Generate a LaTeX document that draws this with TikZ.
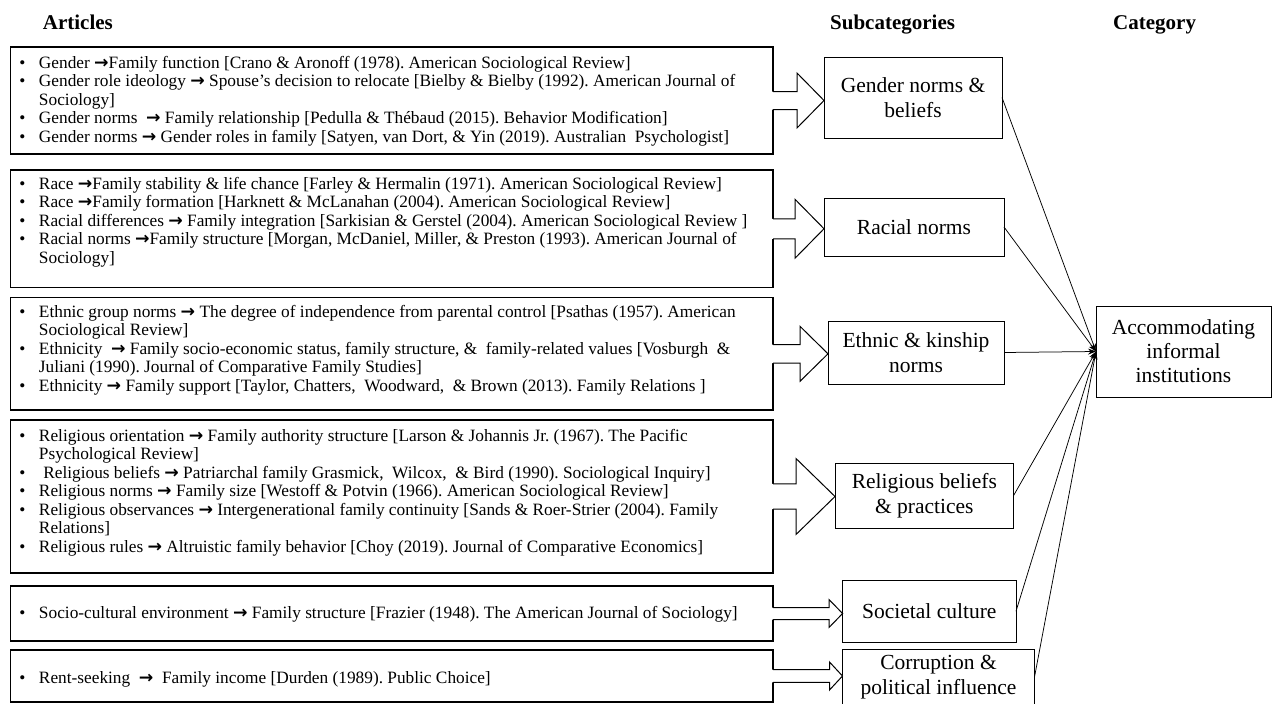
\documentclass[tikz,border=0pt]{standalone}
\usepackage{fontspec}
\setmainfont{Liberation Serif}
\newfontfamily\arrowfont{DejaVu Sans}[Scale=1.0]
\usetikzlibrary{calc,arrows.meta}
\frenchspacing

% list helpers for the article boxes
\newcommand\bul{\makebox[19.5pt][l]{\textbullet}}
\newcommand\cont{\hspace*{19.5pt}}
\newcommand\goesto{{\arrowfont\bfseries →}}

% hollow block arrow: from node #1 (east side) to node #2 (west side)
% #3 = stem half height, #4 = head half height, #5 = head length
\newcommand\fatarrow[5]{%
  \fill[white] let \p1=(#1.east), \p2=(#2.west) in
    (\x1-1.5pt,\y1+#3) -- (\x2-#5,\y1+#3) -- (\x2-#5,\y1+#4) -- (\x2,\y1)
    -- (\x2-#5,\y1-#4) -- (\x2-#5,\y1-#3) -- (\x1-1.5pt,\y1-#3) -- cycle;
  \draw[fat] let \p1=(#1.east), \p2=(#2.west) in
    (\x1,\y1+#3) -- (\x2-#5,\y1+#3) -- (\x2-#5,\y1+#4) -- (\x2,\y1)
    -- (\x2-#5,\y1-#4) -- (\x2-#5,\y1-#3) -- (\x1,\y1-#3);
}

\begin{document}
\begin{tikzpicture}[x=1pt,y=-1pt,
  artbox/.style={draw,line width=1.1pt,minimum width=762.5pt,inner sep=0pt,outer sep=0pt},
  arttext/.style={anchor=base west,inner sep=0pt,outer sep=0pt,
    font=\fontsize{17.3}{18.5}\selectfont},
  subbox/.style={draw,line width=1pt,align=center,inner sep=0pt,outer sep=0pt,
    font=\fontsize{21.5}{25}\selectfont},
  header/.style={anchor=base west,inner sep=0pt,font=\fontsize{21}{24}\selectfont\bfseries},
  link/.style={line width=0.75pt,-{Stealth[length=8pt,width=6pt]}},
  fat/.style={line width=1pt,line join=miter}]
\useasboundingbox (0,0) rectangle (1275,704);

% column headings
\node[header] (hA) at (42.7,30) {Articles};
\node[header] (hS) at (830,30) {Subcategories};
\node[header] (hC) at (1113,30) {Category};

% article boxes
\node[artbox,minimum height=107pt]   (a1) at (391.75,100.5) {};
\node[artbox,minimum height=117.5pt] (a2) at (391.75,228.75) {};
\node[artbox,minimum height=112.4pt] (a3) at (391.75,353.8) {};
\node[artbox,minimum height=153pt]   (a4) at (391.75,496.5) {};
\node[artbox,minimum height=55pt]    (a5) at (391.75,613.5) {};
\node[artbox,minimum height=52pt]    (a6) at (391.75,676) {};

\node[arttext] (t1) at (19.5,68) {\parbox[t]{745pt}{\raggedright
\bul Gender \goesto Family function [Crano \& Aronoff (1978). American Sociological Review]\\
\bul Gender role ideology \goesto{} Spouse’s decision to relocate [Bielby \& Bielby (1992). American Journal of\\
\cont Sociology]\\
\bul Gender norms \ \goesto{} Family relationship [Pedulla \& Thébaud (2015). Behavior Modification]\\
\bul Gender norms \goesto{} Gender roles in family [Satyen, van Dort, \& Yin (2019). Australian \ Psychologist]}};

\node[arttext] (t2) at (19.5,189) {\parbox[t]{745pt}{\raggedright
\bul Race \goesto Family stability \& life chance [Farley \& Hermalin (1971). American Sociological Review]\\
\bul Race \goesto Family formation [Harknett \& McLanahan (2004). American Sociological Review]\\
\bul Racial differences \goesto{} Family integration [Sarkisian \& Gerstel (2004). American Sociological Review ]\\
\bul Racial norms \goesto Family structure [Morgan, McDaniel, Miller, \& Preston (1993). American Journal of\\
\cont Sociology]}};

\node[arttext] (t3) at (19.5,317) {\parbox[t]{745pt}{\raggedright
\bul Ethnic group norms \goesto{} The degree of independence from parental control [Psathas (1957). American\\
\cont Sociological Review]\\
\bul Ethnicity \ \goesto{} Family socio-economic status, family structure, \& \ family-related values [Vosburgh \ \&\\
\cont Juliani (1990). Journal of Comparative Family Studies]\\
\bul Ethnicity \goesto{} Family support [Taylor, Chatters, \ Woodward, \ \& Brown (2013). Family Relations ]}};

\node[arttext] (t4) at (19.5,441) {\parbox[t]{745pt}{\raggedright
\bul Religious orientation \goesto{} Family authority structure [Larson \& Johannis Jr. (1967). The Pacific\\
\cont Psychological Review]\\
\bul\ Religious beliefs \goesto{} Patriarchal family Grasmick, \ Wilcox, \ \& Bird (1990). Sociological Inquiry]\\
\bul Religious norms \goesto{} Family size [Westoff \& Potvin (1966). American Sociological Review]\\
\bul Religious observances \goesto{} Intergenerational family continuity [Sands \& Roer-Strier (2004). Family\\
\cont Relations]\\
\bul Religious rules \goesto{} Altruistic family behavior [Choy (2019). Journal of Comparative Economics]}};

\node[arttext] (t5) at (19.5,618) {\parbox[t]{745pt}{\raggedright
\bul Socio-cultural environment \goesto{} Family structure [Frazier (1948). The American Journal of Sociology]}};

\node[arttext] (t6) at (19.5,683) {\parbox[t]{745pt}{\raggedright
\bul Rent-seeking \ \goesto{} \ Family income [Durden (1989). Public Choice]}};

% subcategory boxes
\node[subbox,minimum width=178pt,minimum height=81pt]   (sg) at (913,97.5)   {Gender norms \&\\beliefs};
\node[subbox,minimum width=180pt,minimum height=58pt]   (sr) at (914,227)    {Racial norms};
\node[subbox,minimum width=176pt,minimum height=63pt]   (se) at (916,352.5)  {Ethnic \& kinship\\norms};
\node[subbox,minimum width=178.6pt,minimum height=65pt] (sl) at (924.3,495.5) {Religious beliefs\\\& practices};
\node[subbox,minimum width=173.4pt,minimum height=62.5pt] (sc) at (929.3,611.25) {Societal culture};
\node[subbox,minimum width=192pt,minimum height=56pt]   (sp) at (938.5,677)  {Corruption \&\\political influence};

% category box
\node[subbox,minimum width=175pt,minimum height=91pt,font=\fontsize{21.5}{24}\selectfont]
  (cat) at (1183.5,351.5) {Accommodating\\informal\\institutions};

% block arrows from articles to subcategories
\fatarrow{a1}{sg}{9pt}{27.5pt}{27pt}
\fatarrow{a2}{sr}{10pt}{29.5pt}{29pt}
\fatarrow{a3}{se}{9.3pt}{27.5pt}{28pt}
\fatarrow{a4}{sl}{12.7pt}{38pt}{39pt}
\fatarrow{a5}{sc}{6pt}{14pt}{13.6pt}
\fatarrow{a6}{sp}{6.3pt}{14pt}{13pt}

% links from subcategories to the category
\foreach \s in {sg,sr,se,sl,sc,sp}
  \draw[link] (\s.east) -- (cat.west);
\end{tikzpicture}
\end{document}
